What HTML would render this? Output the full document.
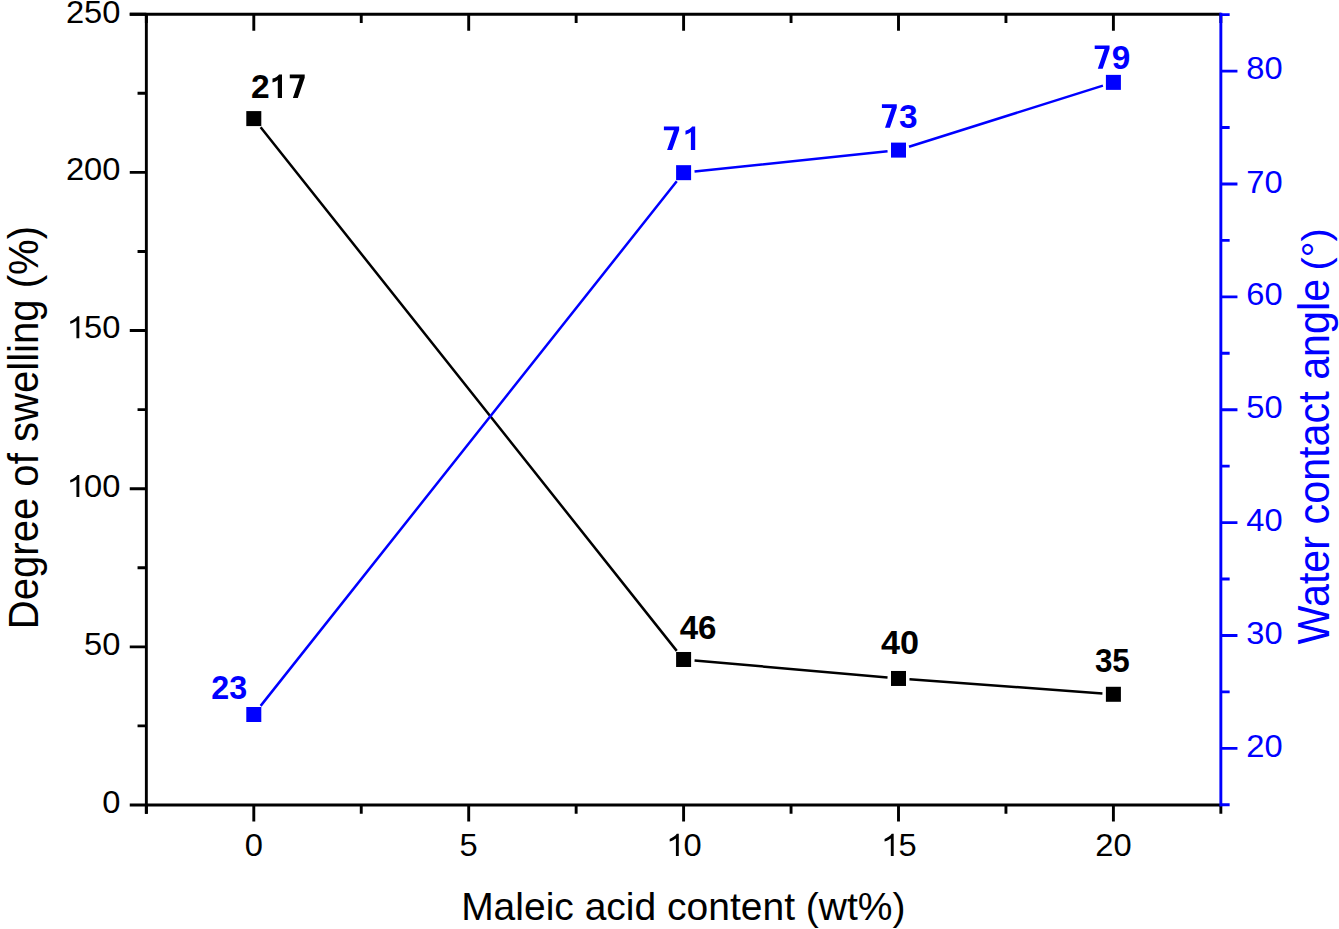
<!DOCTYPE html>
<html><head><meta charset="utf-8"><title>Chart</title>
<style>html,body{margin:0;padding:0;background:#fff;overflow:hidden;}svg{display:block;}text{font-family:"Liberation Sans",sans-serif;}</style>
</head><body>
<svg width="1339" height="929" viewBox="0 0 1339 929" font-family="Liberation Sans, sans-serif">
<rect width="1339" height="929" fill="#fff"/>
<path d="M129.75 805.00H1220.85M129.75 14.20H1220.85M146.35 12.75V813.80" stroke="#000" stroke-width="2.9" fill="none"/>
<path d="M146.35 14.20V23.00M253.80 805.00V821.60M253.80 14.20V30.80M361.25 805.00V813.80M361.25 14.20V23.00M468.70 805.00V821.60M468.70 14.20V30.80M576.15 805.00V813.80M576.15 14.20V23.00M683.60 805.00V821.60M683.60 14.20V30.80M791.05 805.00V813.80M791.05 14.20V23.00M898.50 805.00V821.60M898.50 14.20V30.80M1005.95 805.00V813.80M1005.95 14.20V23.00M1113.40 805.00V821.60M1113.40 14.20V30.80M1220.85 805.00V813.80M1220.85 14.20V23.00M146.35 725.92H137.55M146.35 646.84H129.75M146.35 567.76H137.55M146.35 488.68H129.75M146.35 409.60H137.55M146.35 330.52H129.75M146.35 251.44H137.55M146.35 172.36H129.75M146.35 93.28H137.55M146.35 14.20H129.75" stroke="#000" stroke-width="2.9" fill="none"/>
<path d="M146.35 805.00V813.80" stroke="#000" stroke-width="2.9" fill="none"/>
<path d="M1220.85 12.75V806.45M1220.85 804.80H1229.65M1220.85 748.36H1237.45M1220.85 691.92H1229.65M1220.85 635.48H1237.45M1220.85 579.04H1229.65M1220.85 522.60H1237.45M1220.85 466.16H1229.65M1220.85 409.72H1237.45M1220.85 353.28H1229.65M1220.85 296.84H1237.45M1220.85 240.40H1229.65M1220.85 183.96H1237.45M1220.85 127.52H1229.65M1220.85 71.08H1237.45M1220.85 14.64H1229.65" stroke="#0000ff" stroke-width="2.9" fill="none"/>
<text transform="translate(102.31,813.40) scale(1.0550,1.0300)" x="0.00" font-size="31" fill="#000">0</text>
<text transform="translate(84.12,654.94) scale(1.0550,1.0300)" x="0.00 17.24" font-size="31" fill="#000">50</text>
<text transform="translate(65.93,497.08) scale(1.0550,1.0300)" x="17.24 34.48" font-size="31" fill="#000">00</text>
<path transform="translate(65.93,497.08) scale(0.01597,-0.01559)" d="M838 0V1420H713C640 1300 470 1165 267 1095V935C420 985 560 1060 658 1130V0Z" fill="#000"/>
<text transform="translate(65.93,338.32) scale(1.0550,1.0300)" x="17.24 34.48" font-size="31" fill="#000">50</text>
<path transform="translate(65.93,338.32) scale(0.01597,-0.01559)" d="M838 0V1420H713C640 1300 470 1165 267 1095V935C420 985 560 1060 658 1130V0Z" fill="#000"/>
<text transform="translate(65.93,180.36) scale(1.0550,1.0300)" x="0.00 17.24 34.48" font-size="31" fill="#000">200</text>
<text transform="translate(65.93,23.00) scale(1.0550,1.0300)" x="0.00 17.24 34.48" font-size="31" fill="#000">250</text>
<text transform="translate(244.71,856.00) scale(1.0550,1.0300)" x="0.00" font-size="31" fill="#000">0</text>
<text transform="translate(459.61,856.00) scale(1.0550,1.0300)" x="0.00" font-size="31" fill="#000">5</text>
<text transform="translate(665.41,856.00) scale(1.0550,1.0300)" x="17.24" font-size="31" fill="#000">0</text>
<path transform="translate(665.41,856.00) scale(0.01597,-0.01559)" d="M838 0V1420H713C640 1300 470 1165 267 1095V935C420 985 560 1060 658 1130V0Z" fill="#000"/>
<text transform="translate(880.31,856.00) scale(1.0550,1.0300)" x="17.24" font-size="31" fill="#000">5</text>
<path transform="translate(880.31,856.00) scale(0.01597,-0.01559)" d="M838 0V1420H713C640 1300 470 1165 267 1095V935C420 985 560 1060 658 1130V0Z" fill="#000"/>
<text transform="translate(1095.21,856.00) scale(1.0550,1.0300)" x="0.00 17.24" font-size="31" fill="#000">20</text>
<text transform="translate(1246.30,756.66) scale(1.0550,1.0300)" x="0.00 17.24" font-size="31" fill="#0000ff">20</text>
<text transform="translate(1246.30,644.08) scale(1.0550,1.0300)" x="0.00 17.24" font-size="31" fill="#0000ff">30</text>
<text transform="translate(1246.30,531.20) scale(1.0550,1.0300)" x="0.00 17.24" font-size="31" fill="#0000ff">40</text>
<text transform="translate(1246.30,418.32) scale(1.0550,1.0300)" x="0.00 17.24" font-size="31" fill="#0000ff">50</text>
<text transform="translate(1246.30,305.44) scale(1.0550,1.0300)" x="0.00 17.24" font-size="31" fill="#0000ff">60</text>
<text transform="translate(1246.30,193.16) scale(1.0550,1.0300)" x="0.00 17.24" font-size="31" fill="#0000ff">70</text>
<text transform="translate(1246.30,78.58) scale(1.0550,1.0300)" x="0.00 17.24" font-size="31" fill="#0000ff">80</text>
<text transform="translate(683.30,919.80)" font-size="39" text-anchor="middle" fill="#000">Maleic acid content (wt%)</text>
<text transform="translate(38.40,427.60) rotate(-90) scale(1.0,1.06)" font-size="40.1" text-anchor="middle" fill="#000">Degree of swelling (%)</text>
<text transform="translate(1328.90,644.50) rotate(-90) scale(1.0,1.077)" font-size="41.3" text-anchor="start" fill="#0000ff">Water contact angle</text>
<text transform="translate(1329.30,270.50) rotate(-90)" font-size="39.7" text-anchor="start" fill="#0000ff">(°)</text>
<path d="M260.64 127.20L676.76 650.88M694.56 660.46L887.54 677.50M909.47 679.28L1102.43 693.48" stroke="#000" stroke-width="2.5" fill="none"/>
<path d="M260.64 705.88L676.76 181.29M694.54 171.52L887.56 151.25M908.99 146.79L1102.91 85.67" stroke="#0000ff" stroke-width="2.5" fill="none"/>
<rect x="246.30" y="111.09" width="15.0" height="15.0" fill="#000"/>
<rect x="676.10" y="651.99" width="15.0" height="15.0" fill="#000"/>
<rect x="891.00" y="670.97" width="15.0" height="15.0" fill="#000"/>
<rect x="1105.90" y="686.79" width="15.0" height="15.0" fill="#000"/>
<rect x="246.30" y="707.00" width="15.0" height="15.0" fill="#0000ff"/>
<rect x="676.10" y="165.17" width="15.0" height="15.0" fill="#0000ff"/>
<rect x="891.00" y="142.60" width="15.0" height="15.0" fill="#0000ff"/>
<rect x="1105.90" y="74.87" width="15.0" height="15.0" fill="#0000ff"/>
<text transform="translate(251.04,97.90) scale(1.0068,1.0250)" x="0.00" font-size="33.3" fill="#000" font-weight="bold">2</text>
<path transform="translate(268.58,97.90) scale(0.01637,-0.01667)" d="M820 0V1409H640C570 1290 420 1210 240 1160V920C380 960 480 1010 562 1075V0Z" fill="#000"/>
<path transform="translate(288.33,97.90) scale(0.01637,-0.01667)" d="M88 1409H1000V1205L578 0H279L690 1185H88Z" fill="#000"/>
<text transform="translate(679.70,639.17) scale(0.9934,1.0250)" x="0.00 18.52" font-size="33.3" fill="#000" font-weight="bold">46</text>
<text transform="translate(880.88,653.97) scale(1.0264,1.0250)" x="0.00 18.52" font-size="33.3" fill="#000" font-weight="bold">40</text>
<text transform="translate(1094.88,671.72) scale(0.9420,1.0250)" x="0.00 18.52" font-size="33.3" fill="#000" font-weight="bold">35</text>
<text transform="translate(211.28,699.42) scale(0.9688,1.0250)" x="0.00 18.52" font-size="33.3" fill="#0000ff" font-weight="bold">23</text>
<path transform="translate(662.43,150.00) scale(0.01673,-0.01667)" d="M88 1409H1000V1205L578 0H279L690 1185H88Z" fill="#0000ff"/>
<path transform="translate(681.48,150.00) scale(0.01673,-0.01667)" d="M820 0V1409H640C570 1290 420 1210 240 1160V920C380 960 480 1010 562 1075V0Z" fill="#0000ff"/>
<text transform="translate(880.47,127.82) scale(1.0027,1.0250)" x="18.52" font-size="33.3" fill="#0000ff" font-weight="bold">3</text>
<path transform="translate(880.47,127.82) scale(0.01630,-0.01667)" d="M88 1409H1000V1205L578 0H279L690 1185H88Z" fill="#0000ff"/>
<text transform="translate(1093.27,68.87) scale(1.0008,1.0250)" x="18.52" font-size="33.3" fill="#0000ff" font-weight="bold">9</text>
<path transform="translate(1093.27,68.87) scale(0.01627,-0.01667)" d="M88 1409H1000V1205L578 0H279L690 1185H88Z" fill="#0000ff"/>
</svg>
</body></html>
